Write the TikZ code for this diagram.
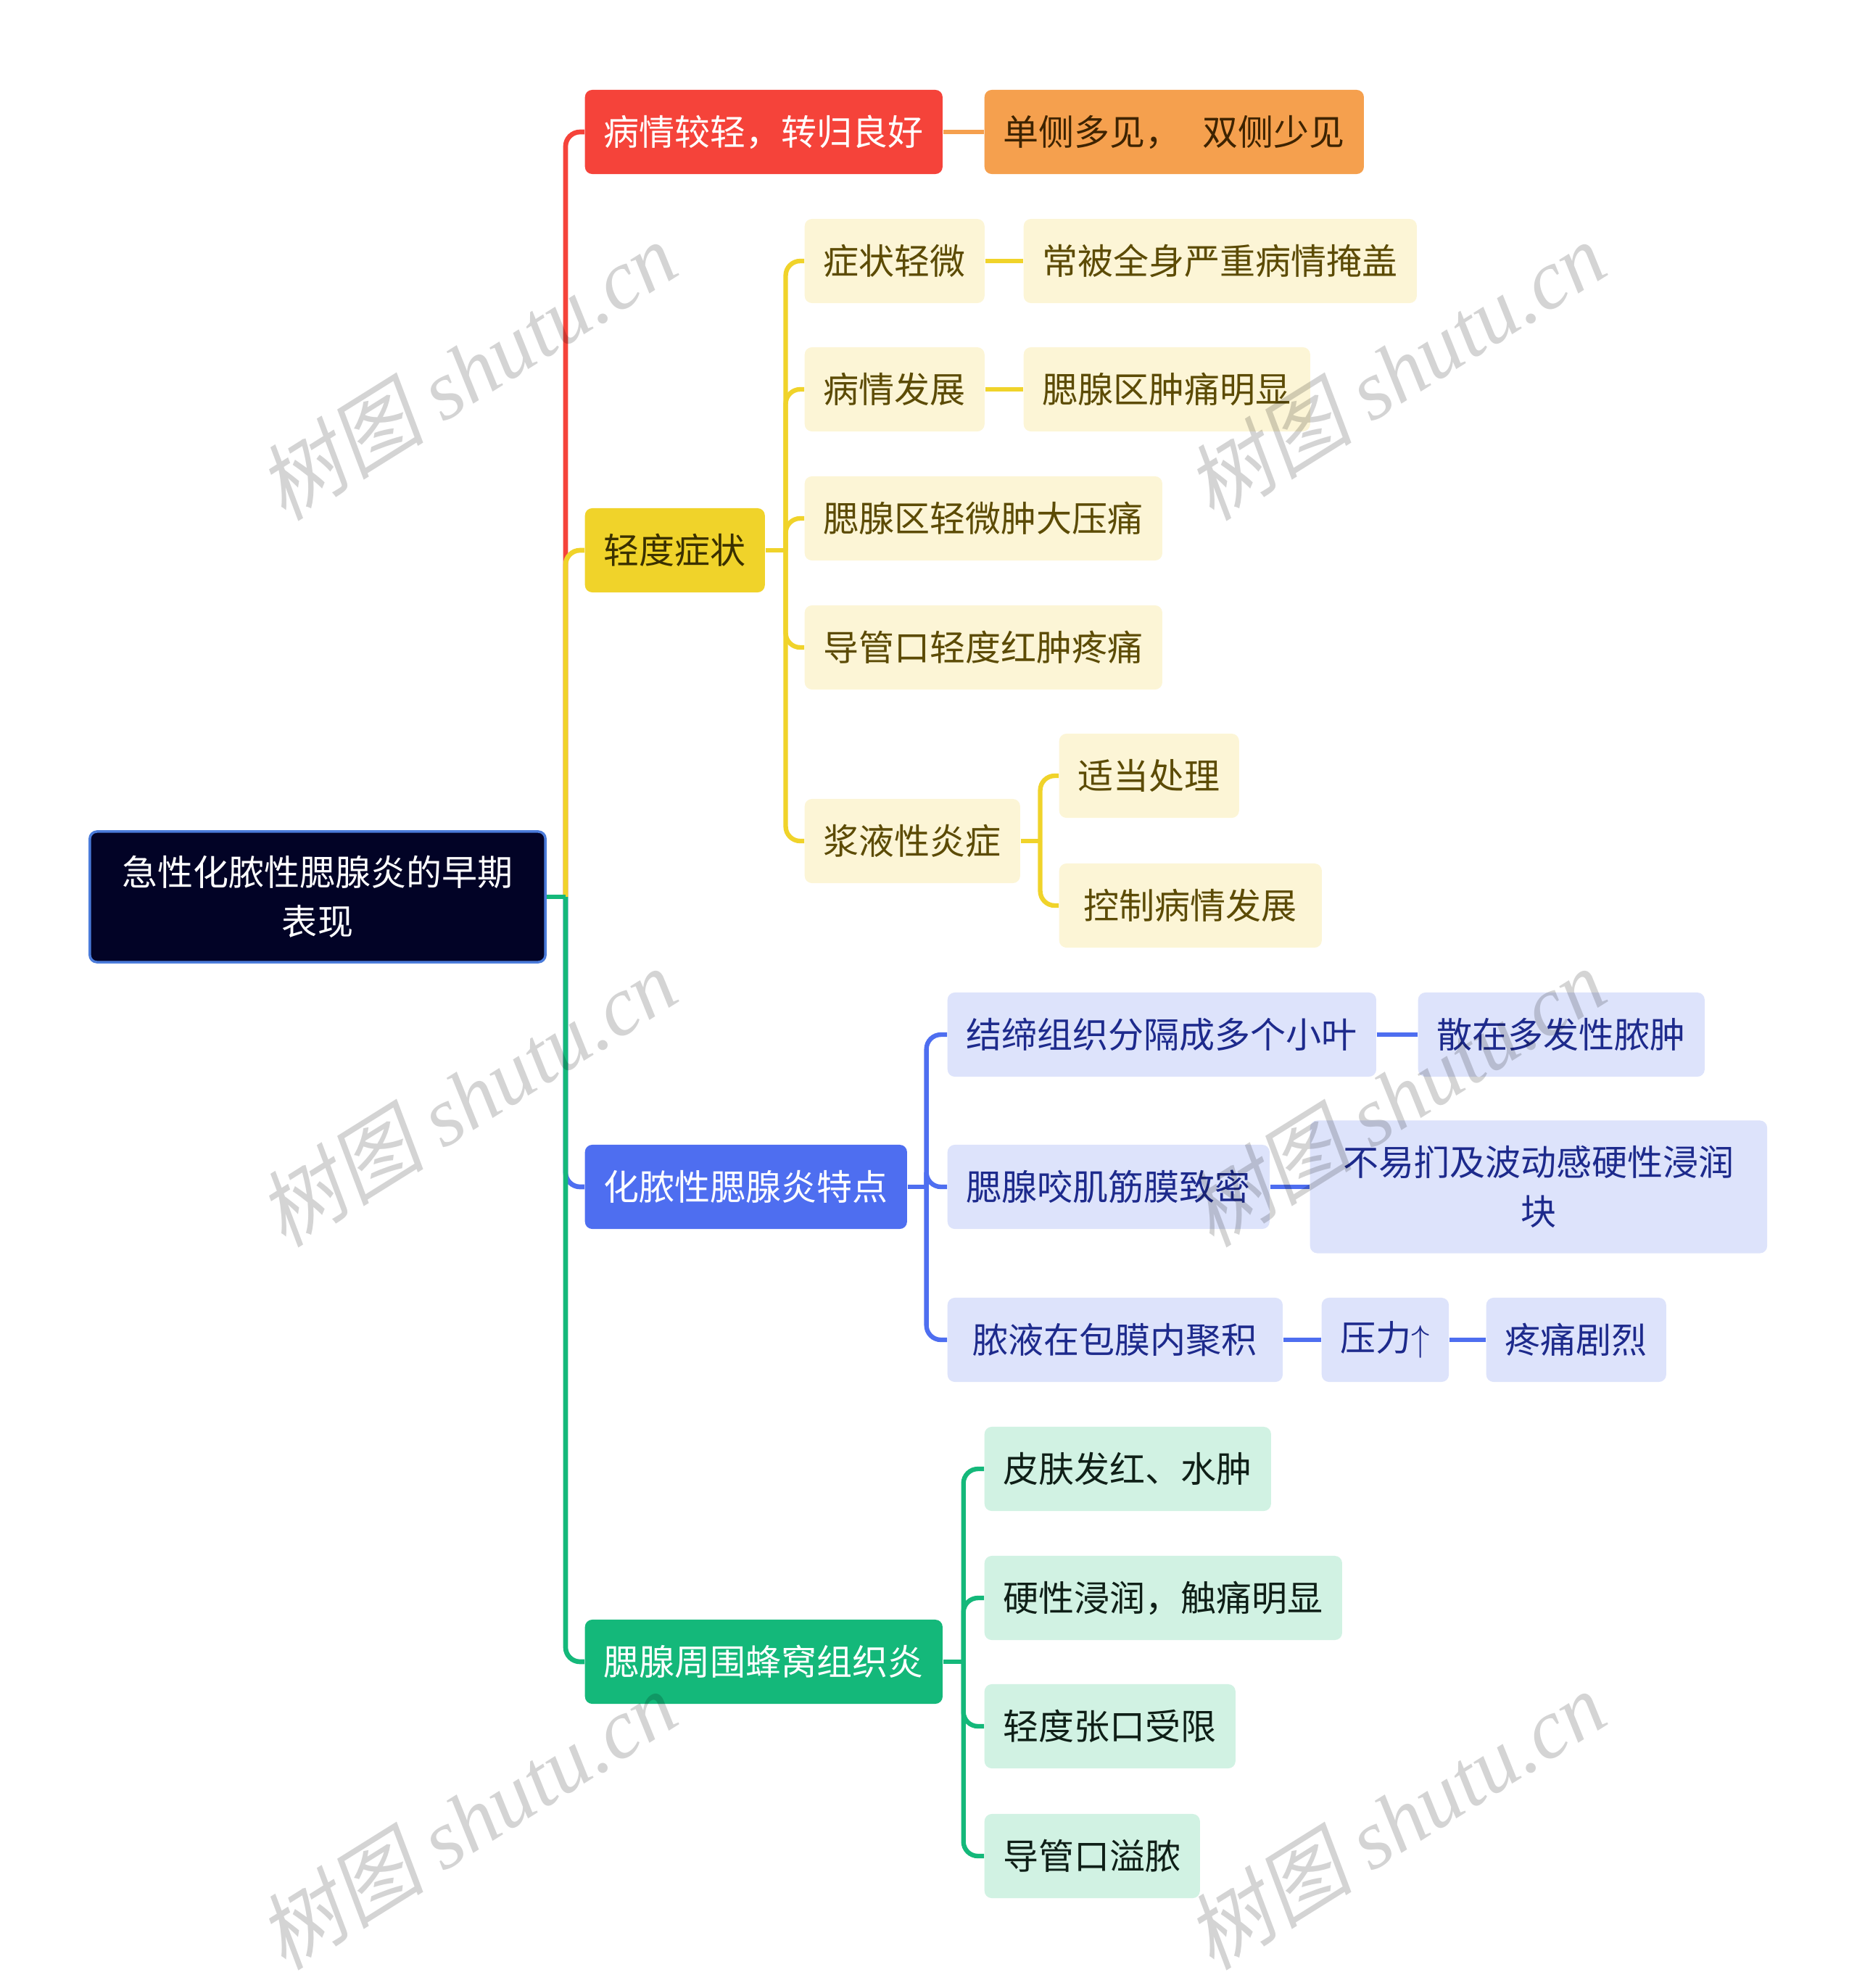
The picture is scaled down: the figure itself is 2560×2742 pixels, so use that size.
\documentclass[tikz,border=0pt]{standalone}
\usepackage{fontspec}
\usepackage{tikz}
\setmainfont{Noto Sans CJK SC}
\newfontfamily\wmcjk[FakeSlant=0.2]{Noto Sans CJK SC}
\newfontfamily\wmlatin{Liberation Serif}
\definecolor{rootfill}{RGB}{2,3,38}
\definecolor{rootedge}{RGB}{74,123,218}
\definecolor{redc}{RGB}{245,67,58}
\definecolor{orangec}{RGB}{245,160,78}
\definecolor{orangetext}{RGB}{61,35,0}
\definecolor{yellowc}{RGB}{240,211,42}
\definecolor{yellowtext}{RGB}{58,48,0}
\definecolor{cream}{RGB}{252,245,214}
\definecolor{olive}{RGB}{92,75,5}
\definecolor{bluec}{RGB}{78,110,240}
\definecolor{lightblue}{RGB}{221,227,251}
\definecolor{navytext}{RGB}{29,42,140}
\definecolor{greenc}{RGB}{20,184,122}
\definecolor{lightgreen}{RGB}{209,242,227}
\definecolor{greentext}{RGB}{15,31,23}

\begin{document}
\begin{tikzpicture}[x=0.01cm,y=-0.01cm,
 box/.style={rounded corners=0.1cm,minimum height=1.16cm,inner xsep=0.26cm,inner ysep=0pt,
   anchor=west,font=\fontsize{13.94}{19.4}\selectfont},
 yleaf/.style={box,fill=cream,text=olive},
 bleaf/.style={box,fill=lightblue,text=navytext},
 gleaf/.style={box,fill=lightgreen,text=greentext},
 link/.style={draw=#1,line width=1.9pt,rounded corners=0.2cm},
 sublink/.style={draw=#1,line width=1.8pt,rounded corners=0.2cm},
 wmtext/.style={rotate=32,inner sep=0pt,text=black,text opacity=0.17,font=\fontsize{33}{38}\selectfont}]
 \useasboundingbox (0,0) rectangle (2560,2742);
 \node[box,anchor=center,fill=rootfill,draw=rootedge,line width=1pt,text=white,align=center,
   minimum width=6.28cm,minimum height=1.80cm] (root) at (438,1237) {急性化脓性腮腺炎的早期\\表现};
 \node[box,fill=redc,text=white] (light) at (806,182) {病情较轻，转归良好};
 \node[box,fill=orangec,text=orangetext] (side) at (1357,182) {单侧多见，\hspace{0.3cm}双侧少见};
 \node[box,fill=yellowc,text=yellowtext] (mild) at (806,759) {轻度症状};
 \node[yleaf] (m1) at (1109,360) {症状轻微};
 \node[yleaf] (m1b) at (1411,360) {常被全身严重病情掩盖};
 \node[yleaf] (m2) at (1109,537) {病情发展};
 \node[yleaf] (m2b) at (1411,537) {腮腺区肿痛明显};
 \node[yleaf] (m3) at (1109,715) {腮腺区轻微肿大压痛};
 \node[yleaf] (m4) at (1109,893) {导管口轻度红肿疼痛};
 \node[yleaf] (m5) at (1109,1160) {浆液性炎症};
 \node[yleaf] (m5a) at (1460,1070) {适当处理};
 \node[yleaf,minimum width=3.62cm] (m5b) at (1460,1249) {控制病情发展};
 \node[box,fill=bluec,text=white] (pus) at (806,1637) {化脓性腮腺炎特点};
 \node[bleaf] (p1) at (1306,1427) {结缔组织分隔成多个小叶};
 \node[bleaf] (p1b) at (1955,1427) {散在多发性脓肿};
 \node[bleaf] (p2) at (1306,1637) {腮腺咬肌筋膜致密};
 \node[bleaf,align=center,minimum width=6.30cm,minimum height=1.83cm] (p2b) at (1806,1637) {不易扪及波动感硬性浸润\\块};
 \node[bleaf,minimum width=4.62cm] (p3) at (1306,1848) {脓液在包膜内聚积};
 \node[bleaf] (p3b) at (1822,1848) {压力$\uparrow$};
 \node[bleaf] (p3c) at (2049,1848) {疼痛剧烈};
 \node[box,fill=greenc,text=white] (cell) at (806,2292) {腮腺周围蜂窝组织炎};
 \node[gleaf] (c1) at (1357,2026) {皮肤发红、水肿};
 \node[gleaf] (c2) at (1357,2204) {硬性浸润，触痛明显};
 \node[gleaf] (c3) at (1357,2381) {轻度张口受限};
 \node[gleaf] (c4) at (1357,2560) {导管口溢脓};

 \coordinate (rt) at ([xshift=2.6mm]root.east);
 \draw[link=redc] (rt) |- (light.west);
 \draw[sublink=orangec] (light) -- (side);
 \draw[link=yellowc] (rt) |- (mild.west);
 \draw[link=bluec] (rt) |- (pus.west);
 \draw[link=greenc] (rt) |- (cell.west);
 \draw[link=greenc] (root.east) -- (rt);

 \coordinate (mj) at ([xshift=2.8mm]mild.east);
 \draw[sublink=yellowc] (mild.east) -- (mj);
 \foreach \c in {m1,m2,m3,m4,m5}
   \draw[sublink=yellowc] (mj) |- (\c.west);
 \draw[sublink=yellowc] (m1) -- (m1b);
 \draw[sublink=yellowc] (m2) -- (m2b);
 \coordinate (sj) at ([xshift=2.7mm]m5.east);
 \draw[sublink=yellowc] (m5.east) -- (sj);
 \foreach \c in {m5a,m5b}
   \draw[sublink=yellowc] (sj) |- (\c.west);

 \coordinate (pj) at ([xshift=2.6mm]pus.east);
 \draw[sublink=bluec] (pus.east) -- (pj);
 \foreach \c in {p1,p2,p3}
   \draw[sublink=bluec] (pj) |- (\c.west);
 \draw[sublink=bluec] (p1) -- (p1b);
 \draw[sublink=bluec] (p2) -- (p2b);
 \draw[sublink=bluec] (p3) -- (p3b);
 \draw[sublink=bluec] (p3b) -- (p3c);

 \coordinate (cj) at ([xshift=2.8mm]cell.east);
 \draw[sublink=greenc] (cell.east) -- (cj);
 \foreach \c in {c1,c2,c3,c4}
   \draw[sublink=greenc] (cj) |- (\c.west);

 \foreach \i/\x/\y in {1/644/511,2/1924/511,3/644/1513,4/1924/1513,5/644/2510,6/1924/2510}
   \node[wmtext] (wm\i) at (\x,\y) {{\wmcjk 树图} {\wmlatin\itshape shutu.cn}};
\end{tikzpicture}
\end{document}
